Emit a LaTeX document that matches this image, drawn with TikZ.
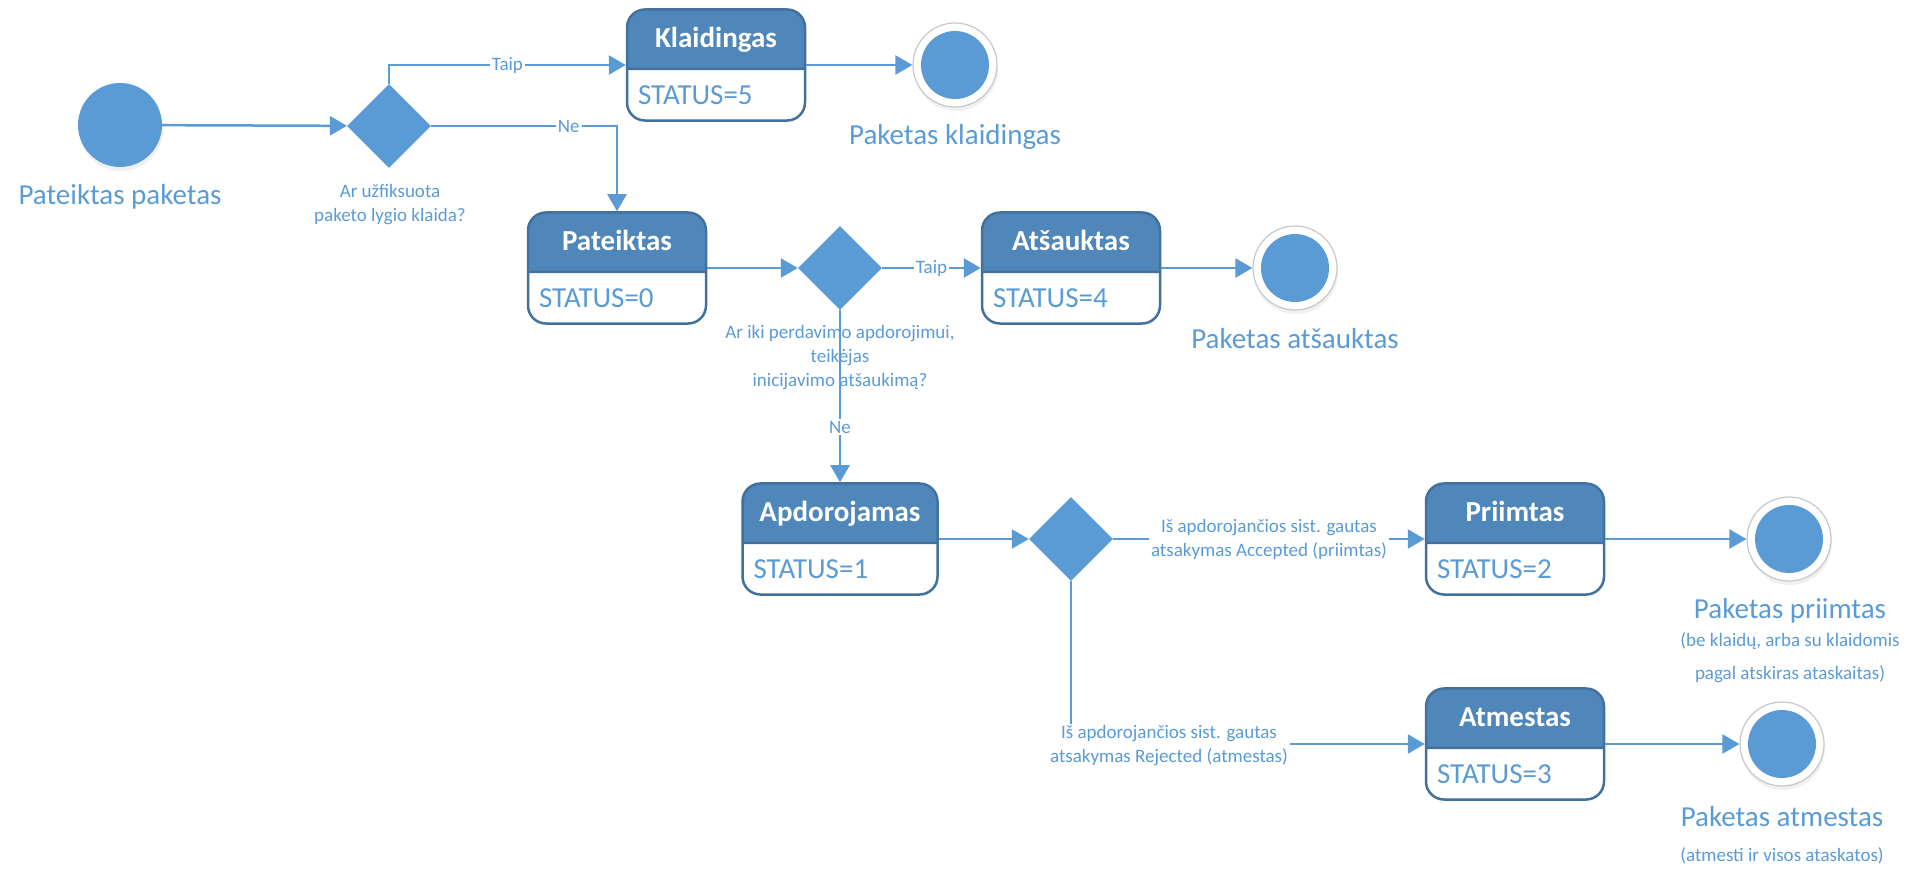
\documentclass[tikz,border=0pt]{standalone}
\usepackage{fontspec}
\setmainfont{Carlito}
\usetikzlibrary{positioning, arrows.meta, shapes.geometric, shapes.multipart, shadows}

\definecolor{flow}{HTML}{5B9BD5}
\definecolor{hdr}{HTML}{4F87BB}
\definecolor{rim}{HTML}{41719C}
\definecolor{ring}{HTML}{C8C8C8}

\begin{document}
\begin{tikzpicture}[
    x=1pt, y=-1pt,
    >={Triangle[length=17pt, width=19pt]},
    every node/.style = {font=\fontsize{19}{24}\selectfont, text=flow},
    shade/.style      = {drop shadow={opacity=0.12, shadow xshift=1pt, shadow yshift=-4pt}},
    state/.style      = {rectangle split, rectangle split parts=2,
                         rectangle split part align={center, left},
                         rectangle split part fill={hdr, white},
                         draw=rim, line width=2.5pt, rounded corners=18pt,
                         minimum width=178, inner xsep=11, inner ysep=15,
                         text height=22, text depth=5,
                         font=\fontsize{29}{35}\selectfont},
    start/.style      = {circle, fill=flow, minimum size=84, inner sep=0, shade},
    choice/.style     = {diamond, fill=flow, minimum width=84, minimum height=84,
                         inner sep=0},
    final/.style      = {circle, draw=ring, line width=1.2pt, fill=white,
                         minimum size=84, inner sep=0, shade,
                         path picture={\fill[flow] (path picture bounding box.center)
                                       circle[radius=34pt];}},
    caption/.style    = {font=\fontsize{29}{35}\selectfont},
    note/.style       = {align=center},
    elabel/.style     = {fill=white, inner sep=2, align=center},
    line/.style       = {->, color=flow, line width=2.5pt}
]
\useasboundingbox (0,0) rectangle (1928,868);

% Start
\node[start]   (init)     at (120,125) {};
\node[caption] (init-lab) at (120,197) {Pateiktas paketas};

% First check
\node[choice] (d1)     at (389,126) {};
\node[note]   (d1-lab) at (390,205) {Ar užfiksuota\\paketo lygio klaida?};

% States
\node[state] (kla) at (716,65)  {\color{white}\bfseries Klaidingas \nodepart{two} STATUS=5};
\node[state] (pat) at (617,268) {\color{white}\bfseries Pateiktas \nodepart{two} STATUS=0};
\node[state] (ats) at (1071,268) {\color{white}\bfseries Atšauktas \nodepart{two} STATUS=4};
\node[state, minimum width=195] (apd) at (840,539) {\color{white}\bfseries Apdorojamas \nodepart{two} STATUS=1};
\node[state] (pri) at (1515,539) {\color{white}\bfseries Priimtas \nodepart{two} STATUS=2};
\node[state] (atm) at (1515,744) {\color{white}\bfseries Atmestas \nodepart{two} STATUS=3};

% Second and third checks
\node[choice] (d2)     at (840,268) {};
\node[note]   (d2-lab) at (840,358) {Ar iki perdavimo apdorojimui,\\teikėjas\\inicijavimo atšaukimą?};
\node[choice] (d3)     at (1071,539) {};

% Final states
\node[final]   (end1)     at (955,65)   {};
\node[caption] (end1-lab) at (955,137)  {Paketas klaidingas};
\node[final]   (end2)     at (1295,268) {};
\node[caption] (end2-lab) at (1295,339) {Paketas atšauktas};
\node[final]   (end3)     at (1789,539) {};
\node[caption] (end3-lab) at (1790,611) {Paketas priimtas};
\node[note, font=\fontsize{19}{33}\selectfont] (end3-note) at (1790,658)
      {(be klaidų, arba su klaidomis\\pagal atskiras ataskaitas)};
\node[final]   (end4)     at (1782,744) {};
\node[caption] (end4-lab) at (1782,817) {Paketas atmestas};
\node          (end4-note) at (1782,856) {(atmesti ir visos ataskatos)};

% Flow
\draw[line] (init) -- (d1);
\draw[line] (d1.north) |- node[elabel, pos=0.75] {Taip} (kla.west);
\draw[line] (d1.east) -| node[elabel, pos=0.37] {Ne} (pat.north);
\draw[line] (kla.east) -- (end1);
\draw[line] (pat.east) -- (d2);
\draw[line] (d2) -- node[elabel] {Taip} (ats.west);
\draw[line] (ats.east) -- (end2);
\draw[line] (d2) -- node[elabel, pos=0.68] {Ne} (apd.north);
\draw[line] (apd.east) -- (d3);
\draw[line] (d3) -- node[elabel] {Iš apdorojančios sist. gautas\\atsakymas Accepted (priimtas)} (pri.west);
\draw[line] (pri.east) -- (end3);
\draw[line] (d3.south) |- (atm.west);
\node[elabel] (rej-lab) at (1169,746) {Iš apdorojančios sist. gautas\\atsakymas Rejected (atmestas)};
\draw[line] (atm.east) -- (end4);

\end{tikzpicture}
\end{document}
